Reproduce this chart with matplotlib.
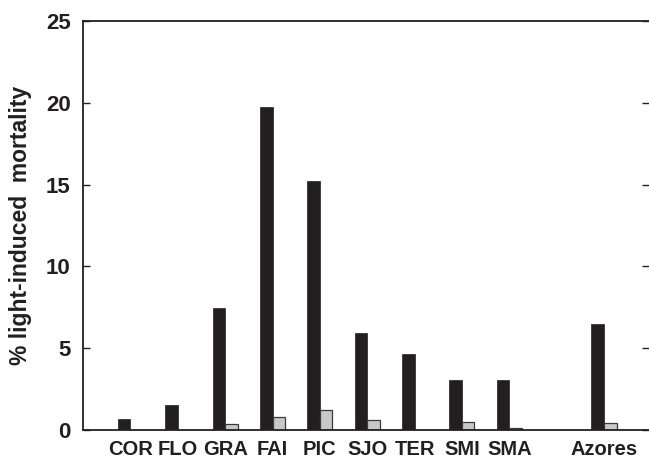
import numpy as np
import matplotlib
matplotlib.use('Agg')
from matplotlib import pyplot as plt

plt.rcParams['font.family'] = ['Liberation Sans', 'DejaVu Sans']

# 数据：各岛屿的光致死亡率
islands = ['COR', 'FLO', 'GRA', 'FAI', 'PIC', 'SJO', 'TER', 'SMI', 'SMA', 'Azores']
pos = [0, 1, 2, 3, 4, 5, 6, 7, 8, 10]
black_vals = [0.65, 1.53, 7.46, 19.76, 15.22, 5.92, 4.66, 3.06, 3.06, 6.48]
gray_vals = [0, 0, 0.39, 0.78, 1.2, 0.61, 0, 0.47, 0.1, 0.45]

w = 0.265
dark = '#231f20'

fig = plt.figure(figsize=(6.49, 4.61), dpi=100)
ax = fig.add_axes([0.128, 0.0672, 0.872, 0.8872])

x = np.array(pos)
ax.bar(x - w / 2, black_vals, width=w, color=dark, edgecolor=dark, linewidth=0.5)
g = np.array(gray_vals)
ax.bar(x[g > 0] + w / 2, g[g > 0], width=w, color='#c8c8c8', edgecolor='#3a3a3a', linewidth=0.9)

ax.set_xlim(-1, 10.95)
ax.set_ylim(0, 25)
ax.set_yticks([0, 5, 10, 15, 20, 25])
ax.set_xticks(pos)
ax.set_xticklabels(islands)

for s in ['left', 'bottom', 'top']:
    ax.spines[s].set_color(dark)
    ax.spines[s].set_linewidth(1.3)
ax.spines['right'].set_visible(False)

ax.tick_params(axis='y', direction='in', length=5, width=1, color=dark,
               right=True, labelsize=16, pad=9)
ax.tick_params(axis='x', length=0, labelsize=14.5, pad=7)
for lab in ax.get_xticklabels() + ax.get_yticklabels():
    lab.set_fontweight('bold')
    lab.set_color(dark)

ax.set_ylabel('% light-induced  mortality', fontsize=16.5, fontweight='bold', color=dark, labelpad=10)

plt.savefig('out.png', dpi=100)
